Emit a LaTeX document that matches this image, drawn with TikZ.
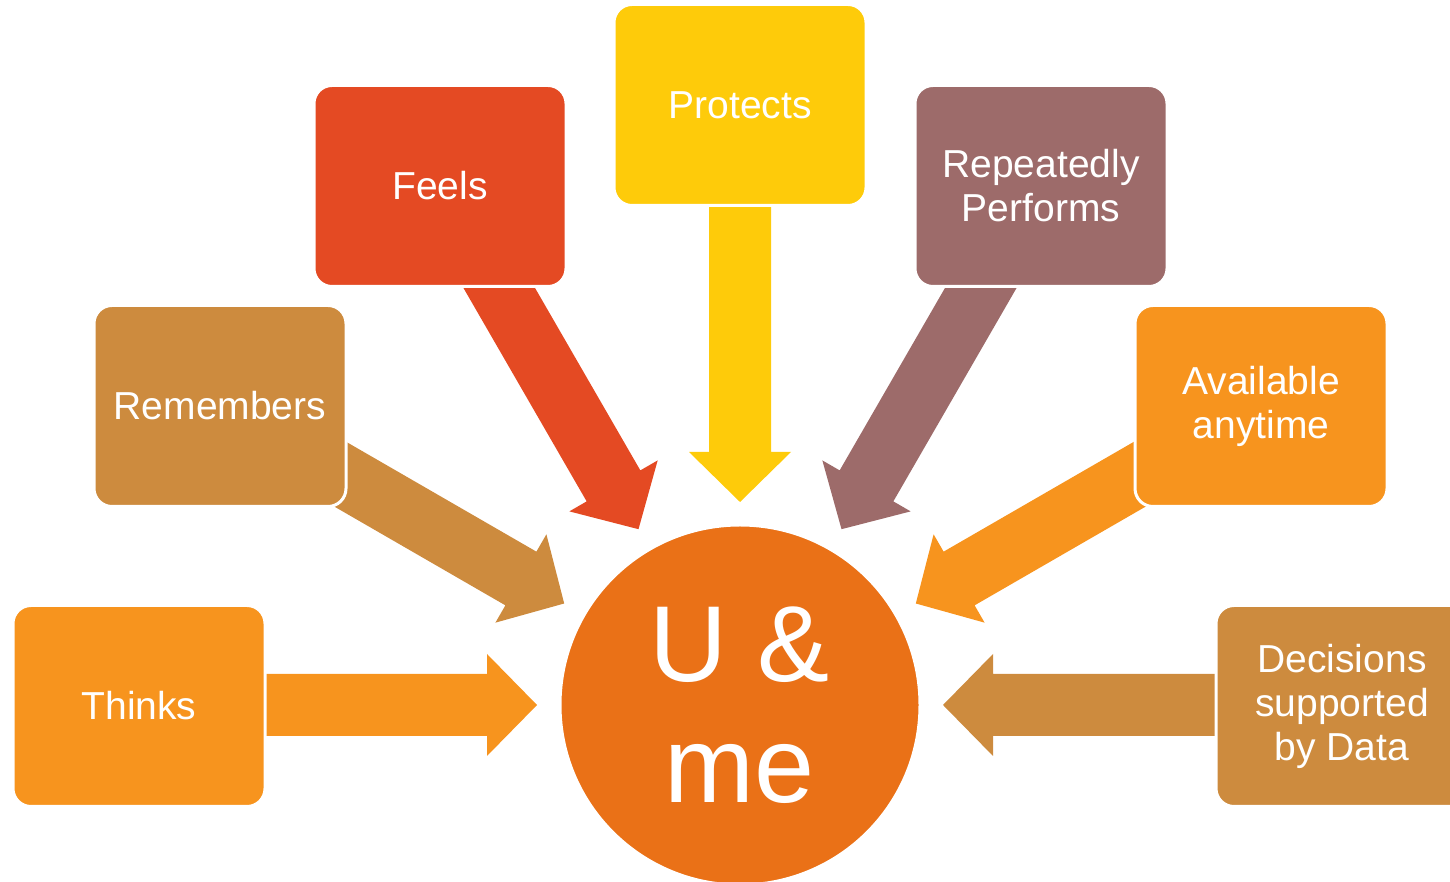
\documentclass[tikz,border=0pt]{standalone}
\usepackage{fontspec}
\setmainfont{Liberation Sans}
\usetikzlibrary{backgrounds}
\definecolor{myorange}{RGB}{247,148,30}
\definecolor{mytan}{RGB}{205,139,62}
\definecolor{myred}{RGB}{228,74,35}
\definecolor{myyellow}{RGB}{254,203,10}
\definecolor{mymauve}{RGB}{157,107,106}
\definecolor{mycircle}{RGB}{234,113,23}

\tikzset{
  box/.style={draw=white, line width=1.5pt, rounded corners=9pt,
    minimum width=126pt, minimum height=100.5pt, text=white, align=center,
    font=\fontsize{19.5}{22}\selectfont},
}

\begin{document}
\begin{tikzpicture}[x=0.5pt,y=0.5pt]
\clip (0,0) rectangle (1450,882);

\node[circle, fill=mycircle, draw=white, line width=1.5pt, minimum size=180pt, text=white, align=center,
  font=\fontsize{54}{60.5}\selectfont] (u) at (740,177) {U \&\\me};

\node[box, fill=myorange] (thinks) at (139,176) {Thinks};
\node[box, fill=mytan] (remembers) at (220,476) {Remembers};
\node[box, fill=myred] (feels) at (440,696) {Feels};
\node[box, fill=myyellow] (protects) at (740,777) {Protects};
\node[box, fill=mymauve] (performs) at (1041,696) {Repeatedly\\Performs};
\node[box, fill=myorange] (available) at (1261,476) {Available\\anytime};
\node[box, fill=mytan] (decisions) at (1342,176) {Decisions\\supported\\by Data};

% block arrows from each box into the circle
\foreach \a/\c in {180/myorange, 150/mytan, 120/myred, 90/myyellow, 60/mymauve, 30/myorange, 0/mytan}
{
  \begin{scope}[on background layer, shift={(u.center)}, rotate=\a]
    \fill[\c] (203,0) -- (253,51) -- (253,31) -- (600,31) -- (600,-31) -- (253,-31) -- (253,-51) -- cycle;
  \end{scope}
}
\end{tikzpicture}
\end{document}
